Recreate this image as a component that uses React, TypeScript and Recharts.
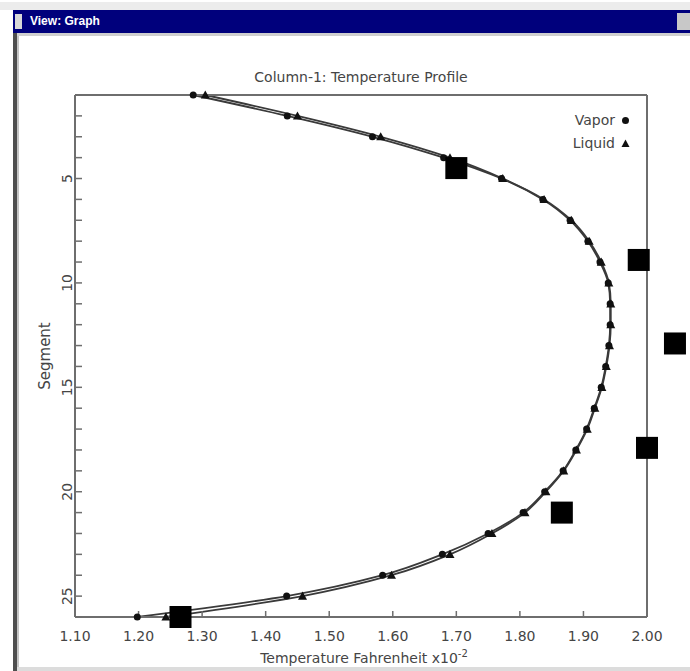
import React from "react";
import { LineChart, Line, XAxis, YAxis, ReferenceDot } from "recharts";

// column segments (1 = top of column)
const segments = [
  1, 2, 3, 4, 5, 6, 7, 8, 9, 10, 11, 12, 13, 14, 15, 16, 17, 18, 19, 20, 21,
  22, 23, 24, 25, 26,
];

// temperatures, Fahrenheit x10^-2
const vaporTemps = [
  1.286, 1.434, 1.568, 1.68, 1.771, 1.836, 1.879, 1.907, 1.926, 1.939, 1.942,
  1.942, 1.94, 1.935, 1.928, 1.917, 1.905, 1.888, 1.868, 1.839, 1.805, 1.75,
  1.678, 1.584, 1.433, 1.198,
];
const liquidTemps = [
  1.305, 1.45, 1.581, 1.69, 1.773, 1.838, 1.881, 1.909, 1.928, 1.94, 1.943,
  1.943, 1.941, 1.936, 1.929, 1.918, 1.906, 1.889, 1.869, 1.841, 1.808, 1.756,
  1.69, 1.598, 1.458, 1.243,
];

const xTicks = [1.1, 1.2, 1.3, 1.4, 1.5, 1.6, 1.7, 1.8, 1.9, 2.0];

// black square markers laid over the plot
const markerTemps = [1.7, 1.987, 2.044, 2.0, 1.866, 1.266];
const markerSegments = [4.5, 8.9, 12.9, 17.9, 21.0, 26.0];

const seriesNames = ["Vapor", "Liquid"];

const data = segments.map((seg, i) => ({
  seg,
  vapor: vaporTemps[i],
  liquid: liquidTemps[i],
}));

const TEXT = "#454545";
const AXIS = "#6e6e6e";
const FONT = "DejaVu Sans";

const renderCircle = (props: any) => {
  const { cx, cy, index } = props;
  return <circle key={`v-${index}`} cx={cx} cy={cy} r={3.5} fill="#111" />;
};

const renderTriangle = (props: any) => {
  const { cx, cy, index } = props;
  const s = 4.5;
  return (
    <path
      key={`l-${index}`}
      d={`M${cx},${cy - s} L${cx + s},${cy + s * 0.8} L${cx - s},${cy + s * 0.8} Z`}
      fill="#111"
    />
  );
};

const renderSquare = (props: any) => (
  <rect x={props.cx - 11} y={props.cy - 11} width={22} height={22} fill="#000" />
);

const SegmentTick = (props: any) => {
  const { x, y, payload } = props;
  if (payload.value % 5 !== 0) return <g />;
  return (
    <text
      x={x}
      y={y}
      transform={`rotate(-90 ${x} ${y})`}
      textAnchor="middle"
      dominantBaseline="central"
      fontSize={14}
      fontFamily={FONT}
      fill={TEXT}
    >
      {payload.value}
    </text>
  );
};

const App = () => {
  return (
    <div
      style={{
        position: "absolute",
        left: 0,
        top: 0,
        width: 690,
        height: 671,
        background: "#fff",
        overflow: "hidden",
        fontFamily: FONT,
      }}
    >
      {/* window chrome */}
      <div style={{ position: "absolute", left: 0, top: 2, width: 690, height: 8, background: "#ececec" }} />
      <div style={{ position: "absolute", left: 13, top: 10, width: 677, height: 23, background: "#00007c" }} />
      <div style={{ position: "absolute", left: 15, top: 14, width: 7, height: 15, background: "#d8d8d8" }} />
      <div
        style={{
          position: "absolute",
          left: 30,
          top: 10,
          height: 23,
          lineHeight: "23px",
          color: "#fff",
          fontWeight: "bold",
          fontSize: 12,
          fontFamily: "Liberation Sans",
        }}
      >
        View: Graph
      </div>
      <div style={{ position: "absolute", left: 677, top: 13, width: 14, height: 17, background: "#c8c8c8" }} />
      <div style={{ position: "absolute", left: 13, top: 33, width: 677, height: 3, background: "#cfcfcf" }} />
      <div style={{ position: "absolute", left: 13, top: 33, width: 4, height: 638, background: "#4e4e4e" }} />
      <div style={{ position: "absolute", left: 17, top: 36, width: 2, height: 635, background: "#c4c4c4" }} />
      <div style={{ position: "absolute", left: 17, top: 667, width: 673, height: 4, background: "#dcdcdc" }} />

      {/* title */}
      <div
        style={{
          position: "absolute",
          left: 361,
          top: 69,
          transform: "translateX(-50%)",
          whiteSpace: "nowrap",
          fontSize: 14,
          lineHeight: "16px",
          color: TEXT,
        }}
      >
        Column-1: Temperature Profile
      </div>

      <LineChart
        width={690}
        height={671}
        data={data}
        layout="vertical"
        margin={{ top: 85, right: 33, bottom: 24, left: 45 }}
        style={{ position: "absolute", left: 0, top: 0 }}
      >
        <XAxis
          type="number"
          domain={[1.1, 2.0]}
          ticks={xTicks}
          interval={0}
          tickFormatter={(v: number) => v.toFixed(2)}
          tickSize={-6}
          tickMargin={20}
          height={30}
          axisLine={{ stroke: AXIS, strokeWidth: 2 }}
          tickLine={{ stroke: AXIS, strokeWidth: 1.5 }}
          tick={{ fontSize: 14, fill: TEXT, fontFamily: FONT }}
        />
        <XAxis
          xAxisId="top"
          orientation="top"
          type="number"
          domain={[1.1, 2.0]}
          allowDataOverflow
          ticks={xTicks}
          interval={0}
          tick={false}
          tickSize={-6}
          height={10}
          axisLine={{ stroke: AXIS, strokeWidth: 2 }}
          tickLine={{ stroke: AXIS, strokeWidth: 1.5 }}
        />
        <YAxis
          type="number"
          dataKey="seg"
          domain={[1, 26]}
          ticks={segments}
          interval={0}
          tickSize={-7}
          tickMargin={15}
          width={30}
          axisLine={{ stroke: AXIS, strokeWidth: 2 }}
          tickLine={{ stroke: AXIS, strokeWidth: 1.5 }}
          tick={<SegmentTick />}
        />
        <YAxis
          yAxisId="right"
          orientation="right"
          type="number"
          dataKey="seg"
          domain={[1, 26]}
          allowDataOverflow
          ticks={segments}
          interval={0}
          tickSize={-7}
          tick={false}
          width={10}
          axisLine={{ stroke: AXIS, strokeWidth: 2 }}
          tickLine={{ stroke: AXIS, strokeWidth: 1.5 }}
        />
        <Line
          dataKey="vapor"
          name={seriesNames[0]}
          type="monotone"
          stroke="#3a3a3a"
          strokeWidth={1.8}
          dot={renderCircle}
          activeDot={false}
          isAnimationActive={false}
        />
        <Line
          dataKey="liquid"
          name={seriesNames[1]}
          type="monotone"
          stroke="#3a3a3a"
          strokeWidth={1.8}
          dot={renderTriangle}
          activeDot={false}
          isAnimationActive={false}
        />
        {markerTemps.map((t, i) => (
          <ReferenceDot
            key={`sq-${i}`}
            x={t}
            y={markerSegments[i]}
            ifOverflow="visible"
            shape={renderSquare}
          />
        ))}
      </LineChart>

      {/* legend */}
      {seriesNames.map((name, i) => (
        <div
          key={name}
          style={{
            position: "absolute",
            left: 540,
            top: 111 + i * 23,
            width: 90,
            height: 18,
            display: "flex",
            alignItems: "center",
            justifyContent: "flex-end",
            fontSize: 14,
            color: TEXT,
          }}
        >
          <span style={{ marginRight: 6 }}>{name}</span>
          <svg width={9} height={9}>
            {i === 0 ? (
              <circle cx={4.5} cy={4.5} r={3.5} fill="#111" />
            ) : (
              <path d="M4.5,0.5 L8.5,8 L0.5,8 Z" fill="#111" />
            )}
          </svg>
        </div>
      ))}

      {/* axis titles */}
      <div
        style={{
          position: "absolute",
          left: 45,
          top: 356,
          transform: "translate(-50%, -50%) rotate(-90deg)",
          whiteSpace: "nowrap",
          fontSize: 15,
          lineHeight: "17px",
          color: TEXT,
        }}
      >
        Segment
      </div>
      <div
        style={{
          position: "absolute",
          left: 364,
          top: 650,
          transform: "translateX(-50%)",
          whiteSpace: "nowrap",
          fontSize: 14,
          lineHeight: "16px",
          color: TEXT,
        }}
      >
        Temperature Fahrenheit x10
        <sup style={{ fontSize: 10, verticalAlign: 6, lineHeight: 0 }}>-2</sup>
      </div>
    </div>
  );
};

export default App;
